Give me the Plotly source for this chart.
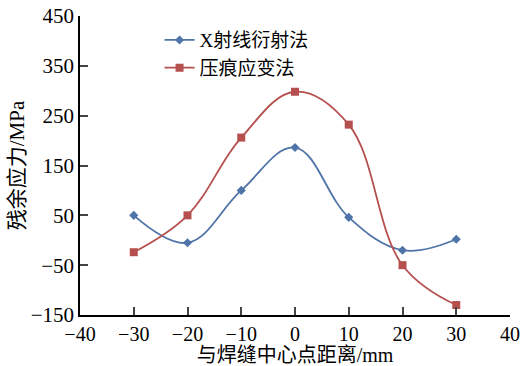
import plotly.graph_objects as go

x_vals = [-30, -20, -10, 0, 10, 20, 30]
xray = [50, -5, 100, 186, 46, -20, 2]
indent = [-24, 50, 206, 298, 232, -50, -130]
series_names = ["X射线衍射法", "压痕应变法"]
x_ticks = [-40, -30, -20, -10, 0, 10, 20, 30, 40]
y_ticks = [-150, -50, 50, 150, 250, 350, 450]

FONT = "Liberation Serif, Noto Sans CJK SC"

fig = go.Figure()
fig.add_trace(go.Scatter(
    x=x_vals, y=xray, name=series_names[0], mode="lines+markers",
    line=dict(color="#4f74a8", width=1.8, shape="spline", smoothing=1.1),
    marker=dict(symbol="diamond", size=7, color="#4f74a8"),
))
fig.add_trace(go.Scatter(
    x=x_vals, y=indent, name=series_names[1], mode="lines+markers",
    line=dict(color="#b5504f", width=1.8, shape="spline", smoothing=1.1),
    marker=dict(symbol="square", size=8, color="#b5504f"),
))

fig.update_layout(
    width=524, height=366,
    margin=dict(l=80, r=14, t=16, b=51),
    paper_bgcolor="white", plot_bgcolor="white",
    font=dict(family=FONT, size=21, color="black"),
    showlegend=True,
    legend=dict(x=0.185, y=0.983, xanchor="left", yanchor="top",
                bgcolor="rgba(0,0,0,0)", font=dict(size=19, family=FONT),
                tracegroupgap=0, itemwidth=30),
    xaxis=dict(range=[-40, 40], tickvals=x_ticks, ticktext=[str(v).replace("-", "−") for v in x_ticks],
               ticks="inside", ticklen=8, tickwidth=1.5, showline=True, linecolor="black",
               linewidth=1.5, showgrid=False, zeroline=False, automargin=False,
               tickfont=dict(size=20),
               title=dict(text="与焊缝中心点距离/mm", standoff=3, font=dict(size=20))),
    yaxis=dict(range=[-150, 450], tickvals=y_ticks, ticktext=[str(v).replace("-", "−") for v in y_ticks],
               ticks="inside", ticklen=8, tickwidth=1.5, showline=True, linecolor="black",
               linewidth=1.5, showgrid=False, zeroline=False, automargin=False,
               title=dict(text="残余应力/MPa", standoff=0, font=dict(size=21))),
)

fig.write_html("out.html", config={"displayModeBar": False},
               post_script="document.body.style.margin='0';")
